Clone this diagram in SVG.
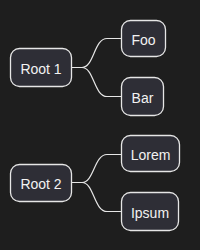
<svg xmlns="http://www.w3.org/2000/svg" width="200" height="250" viewBox="0 0 200 250">
<style>
.node rect{fill:#2e2e36;stroke:#e6e6e6;stroke-width:1.3}
.node text{fill:#f2f2f2;font-family:"Liberation Sans",Arial,sans-serif;font-size:14px;text-anchor:middle;dominant-baseline:central}
.conn path{fill:none;stroke:#e6e6e6;stroke-width:1.2}
</style>
<rect width="200" height="250" fill="#1e1e1e"/>
<g class="conn">
<path d="M72,67.5 H82 C94,67.5 94,38.5 107,38.5 H121"/>
<path d="M72,67.5 H82 C94,67.5 94,96.5 107,96.5 H121"/>
<path d="M72,182.5 H82 C94,182.5 94,154.5 107,154.5 H121"/>
<path d="M72,182.5 H82 C94,182.5 94,211.5 107,211.5 H121"/>
</g>
<g id="root1" class="node"><rect x="10.5" y="48.5" width="61" height="38" rx="9"/><text x="41" y="69">Root 1</text></g>
<g id="foo" class="node"><rect x="121.5" y="20.5" width="44" height="36" rx="9"/><text x="143.5" y="39.5">Foo</text></g>
<g id="bar" class="node"><rect x="121.5" y="77.5" width="42" height="38" rx="9"/><text x="142.5" y="97.5">Bar</text></g>
<g id="root2" class="node"><rect x="10.5" y="164.5" width="61" height="37" rx="9"/><text x="41" y="184">Root 2</text></g>
<g id="lorem" class="node"><rect x="121.5" y="135.5" width="58" height="36" rx="9"/><text x="150.5" y="154.5">Lorem</text></g>
<g id="ipsum" class="node"><rect x="121.5" y="192.5" width="57" height="38" rx="9"/><text x="150" y="212.5">Ipsum</text></g>
</svg>
